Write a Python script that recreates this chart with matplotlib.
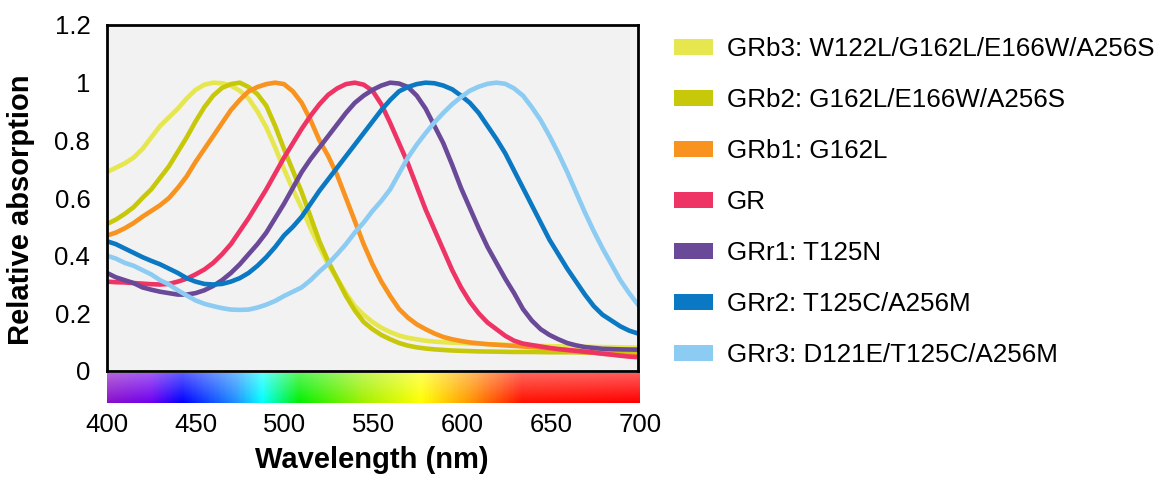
import numpy as np
import matplotlib
matplotlib.use("Agg")
import matplotlib.pyplot as plt
from matplotlib.colors import LinearSegmentedColormap
from matplotlib.patches import Patch

plt.rcParams['font.family'] = ['Liberation Sans', 'DejaVu Sans']

# wavelength grid (nm), every 5 nm
wavelength = np.arange(400, 701, 5)

grb3 = [0.69, 0.705, 0.72, 0.74, 0.77, 0.81, 0.85, 0.88, 0.91, 0.945,
        0.975, 0.993, 1.0, 0.998, 0.99, 0.972, 0.945, 0.9, 0.845, 0.775,
        0.70, 0.63, 0.565, 0.495, 0.43, 0.37, 0.32, 0.27, 0.225, 0.195,
        0.17, 0.15, 0.135, 0.123, 0.115, 0.11, 0.105, 0.102, 0.10, 0.098,
        0.097, 0.095, 0.094, 0.093, 0.092, 0.091, 0.09, 0.089, 0.088, 0.087,
        0.086, 0.0855, 0.085, 0.0845, 0.084, 0.0835, 0.083, 0.0825, 0.082, 0.0815,
        0.081]
grb2 = [0.51, 0.525, 0.545, 0.568, 0.60, 0.63, 0.67, 0.71, 0.76, 0.81,
        0.865, 0.915, 0.955, 0.982, 0.995, 1.0, 0.985, 0.96, 0.92, 0.85,
        0.77, 0.695, 0.62, 0.535, 0.45, 0.38, 0.32, 0.26, 0.21, 0.17,
        0.145, 0.125, 0.11, 0.097, 0.088, 0.082, 0.078, 0.075, 0.073, 0.071,
        0.07, 0.069, 0.068, 0.0675, 0.067, 0.0665, 0.066, 0.066, 0.066, 0.0655,
        0.065, 0.065, 0.065, 0.0645, 0.064, 0.064, 0.064, 0.0635, 0.063, 0.063,
        0.063]
grb1 = [0.47, 0.48, 0.495, 0.513, 0.535, 0.555, 0.575, 0.60, 0.635, 0.675,
        0.725, 0.77, 0.815, 0.86, 0.905, 0.94, 0.97, 0.985, 0.995, 1.0,
        0.995, 0.97, 0.93, 0.87, 0.80, 0.745, 0.68, 0.60, 0.52, 0.44,
        0.37, 0.31, 0.26, 0.215, 0.185, 0.162, 0.145, 0.13, 0.118, 0.11,
        0.104, 0.099, 0.096, 0.093, 0.091, 0.089, 0.087, 0.085, 0.083, 0.081,
        0.078, 0.075, 0.072, 0.069, 0.066, 0.063, 0.06, 0.057, 0.055, 0.052,
        0.05]
gr = [0.31, 0.308, 0.307, 0.305, 0.303, 0.301, 0.30, 0.302, 0.31, 0.32,
      0.335, 0.352, 0.375, 0.405, 0.44, 0.485, 0.53, 0.58, 0.63, 0.685,
      0.74, 0.79, 0.84, 0.885, 0.925, 0.958, 0.98, 0.995, 1.0, 0.993,
      0.972, 0.925, 0.86, 0.79, 0.72, 0.64, 0.56, 0.49, 0.42, 0.35,
      0.29, 0.24, 0.20, 0.168, 0.145, 0.122, 0.105, 0.095, 0.09, 0.085,
      0.08, 0.076, 0.073, 0.07, 0.067, 0.064, 0.06, 0.057, 0.053, 0.05,
      0.048]
grr1 = [0.34, 0.325, 0.315, 0.305, 0.29, 0.282, 0.275, 0.27, 0.265, 0.265,
        0.27, 0.28, 0.295, 0.315, 0.34, 0.37, 0.405, 0.44, 0.48, 0.53,
        0.58, 0.635, 0.69, 0.735, 0.775, 0.815, 0.855, 0.895, 0.93, 0.955,
        0.975, 0.99, 1.0, 0.997, 0.985, 0.955, 0.91, 0.85, 0.79, 0.715,
        0.635, 0.565, 0.495, 0.43, 0.375, 0.32, 0.27, 0.215, 0.175, 0.145,
        0.125, 0.11, 0.097, 0.089, 0.083, 0.08, 0.077, 0.076, 0.075, 0.0745,
        0.074]
grr2 = [0.45, 0.44, 0.425, 0.41, 0.395, 0.382, 0.37, 0.355, 0.34, 0.322,
        0.31, 0.302, 0.30, 0.302, 0.31, 0.322, 0.34, 0.365, 0.395, 0.43,
        0.47, 0.50, 0.535, 0.58, 0.625, 0.665, 0.705, 0.745, 0.785, 0.825,
        0.865, 0.905, 0.94, 0.97, 0.985, 0.995, 1.0, 0.998, 0.99, 0.977,
        0.955, 0.93, 0.895, 0.85, 0.805, 0.755, 0.695, 0.635, 0.575, 0.515,
        0.455, 0.405, 0.355, 0.31, 0.265, 0.225, 0.195, 0.175, 0.155, 0.14,
        0.13]
grr3 = [0.40, 0.39, 0.375, 0.365, 0.35, 0.335, 0.315, 0.30, 0.28, 0.262,
        0.245, 0.233, 0.225, 0.218, 0.213, 0.212, 0.213, 0.22, 0.23, 0.243,
        0.26, 0.275, 0.29, 0.315, 0.345, 0.372, 0.405, 0.44, 0.48, 0.515,
        0.555, 0.59, 0.63, 0.685, 0.74, 0.785, 0.825, 0.862, 0.895, 0.925,
        0.95, 0.972, 0.986, 0.996, 1.0, 0.996, 0.98, 0.955, 0.915, 0.87,
        0.815, 0.755, 0.69, 0.62, 0.55, 0.485, 0.425, 0.37, 0.315, 0.27,
        0.23]

labels = ['GRb3: W122L/G162L/E166W/A256S', 'GRb2: G162L/E166W/A256S',
          'GRb1: G162L', 'GR', 'GRr1: T125N', 'GRr2: T125C/A256M',
          'GRr3: D121E/T125C/A256M']
series = [grb3, grb2, grb1, gr, grr1, grr2, grr3]
colors = ['#E6E64E', '#C8C80A', '#F7931E', '#EE3465', '#6A4A98', '#0A78C2', '#8CCBF2']

W, H = 1159, 479
fig = plt.figure(figsize=(W / 100, H / 100), dpi=100)
fig.patch.set_facecolor('white')

# main plot
ax = fig.add_axes([107 / W, 1 - 371 / H, 531 / W, 346 / H])
ax.set_facecolor('#F2F2F2')
for vals, c, lab in zip(series, colors, labels):
    ax.plot(wavelength, vals, color=c, lw=3.3, label=lab, solid_joinstyle='round')
ax.set_xlim(400, 700)
ax.set_ylim(0, 1.2)
ax.set_xticks([])
ax.set_yticks([0, 0.2, 0.4, 0.6, 0.8, 1.0, 1.2])
ax.set_yticklabels(['0', '0.2', '0.4', '0.6', '0.8', '1', '1.2'])
ax.tick_params(axis='y', length=0, pad=12, labelsize=18.5)
for s in ax.spines.values():
    s.set_linewidth(2)
    s.set_color('black')
ax.set_ylabel('Relative absorption', fontsize=21, fontweight='bold')
ax.yaxis.set_label_coords(-0.136, 0.465)

# spectrum strip under the plot
spec = LinearSegmentedColormap.from_list('spec', [
    (0.0, '#8A10C8'), (0.08, '#7000F0'), (0.14, '#0000FF'), (0.24, '#1E90FF'),
    (0.29, '#00FFFF'), (0.36, '#00F000'), (0.48, '#A0F000'), (0.59, '#FFFF00'),
    (0.68, '#FF9900'), (0.78, '#FF1000'), (1.0, '#FF0000')])
xs = np.linspace(0, 1, 600)
rgb = spec(xs)[:, :3]
fade = np.linspace(0.35, 0.0, 30)[:, None, None]
img = rgb[None, :, :] * (1 - fade) + fade
sax = fig.add_axes([107 / W, 1 - 403 / H, 533 / W, 30 / H])
sax.imshow(img, aspect='auto', extent=[400, 700, 0, 1])
sax.set_xlim(400, 700)
sax.set_yticks([])
sax.set_xticks(range(400, 701, 50))
sax.tick_params(axis='x', length=0, pad=7, labelsize=18.5)
for s in sax.spines.values():
    s.set_visible(False)

fig.text(372 / W, 1 - 460 / H, 'Wavelength (nm)', fontsize=21, fontweight='bold',
         ha='center', va='center')

handles = [Patch(facecolor=c, edgecolor='none', label=lab) for c, lab in zip(colors, labels)]
fig.legend(handles=handles, loc='upper left', bbox_to_anchor=(674 / W, 1 - 37 / H),
           frameon=False, fontsize=18.7, handlelength=1.5, handleheight=0.55,
           handletextpad=0.54, labelspacing=1.04, borderpad=0, borderaxespad=0)

fig.savefig('out.png', dpi=100)
